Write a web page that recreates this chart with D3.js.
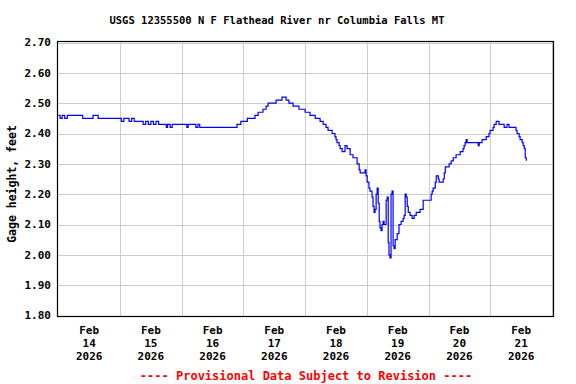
<!DOCTYPE html>
<html><head><meta charset="utf-8">
<script src="https://cdn.jsdelivr.net/npm/d3@7"></script>
<style>
body{margin:0;background:#fff;}
text{font-family:"DejaVu Sans Mono",monospace;font-weight:bold;}
</style></head>
<body><svg id="c" width="576" height="384"></svg>
<script>
const title = "USGS 12355500 N F Flathead River nr Columbia Falls MT";
const yLabel = "Gage height, feet";
const footer = "---- Provisional Data Subject to Revision ----";
const startDate = "2026-02-14T00:00:00";
const endDate = "2026-02-22T00:00:00";
const yTicks = [1.80,1.90,2.00,2.10,2.20,2.30,2.40,2.50,2.60,2.70];
const dayLabels = ["14","15","16","17","18","19","20","21"];
// hours since Feb 14 00:00
const hours = [0,0.7,1.5,2.5,3.5,9.5,13.5,15.5,24.5,25.5,27.5,28.5,29.5,33,34,35,36,37,38,39,
42,42.5,43.5,44.3,50,50.5,53.5,54.3,55,69.5,71,73.5,76.5,77.7,79.6,80.8,81.6,84.7,87,88.6,
89.7,91.3,93.6,96,97.9,99.9,101.8,103,104.1,104.9,106.5,107.6,108,108.4,109.2,109.6,110.4,111.5,112.3,113.5,
114.6,116.2,117,117.4,119.3,119.7,120.1,120.8,121.2,122,122.4,122.8,123.2,123.6,124,124.4,124.8,125.1,125.5,125.9,
126.3,126.7,127.5,127.9,128.3,128.6,129,129.4,129.8,130.2,130.6,131,131.8,132.5,133.3,134.1,134.5,134.9,135.3,135.7,
136.1,136.8,137.6,138.4,139.2,140.7,141.9,144.2,145,145.4,145.8,146.6,147,147.4,147.8,148.1,149.7,150.1,150.5,151.6,
152,152.8,153.6,154.7,156.3,157.4,157.8,158.2,158.6,159,163.3,163.7,164.8,166.4,167.5,167.9,169.1,169.5,170.3,171.4,
173.4,174.5,175.3,178,178.4,179.2,179.6,180.4,180.8,181.2,181.6,182];
const gage = [2.46,2.45,2.46,2.45,2.46,2.45,2.46,2.45,2.44,2.45,2.44,2.45,2.44,2.43,2.44,2.43,2.44,2.43,2.44,2.43,
2.42,2.43,2.42,2.43,2.42,2.43,2.42,2.43,2.42,2.43,2.44,2.45,2.46,2.47,2.48,2.49,2.50,2.51,2.52,2.51,
2.50,2.49,2.48,2.47,2.46,2.45,2.44,2.43,2.42,2.41,2.40,2.39,2.38,2.37,2.36,2.35,2.34,2.36,2.35,2.33,
2.32,2.30,2.28,2.27,2.28,2.26,2.24,2.22,2.21,2.19,2.16,2.14,2.15,2.20,2.22,2.17,2.11,2.09,2.08,2.10,
2.11,2.10,2.18,2.19,2.04,2.00,1.99,2.20,2.21,2.03,2.02,2.05,2.07,2.10,2.11,2.12,2.13,2.20,2.19,2.16,
2.14,2.13,2.12,2.13,2.14,2.15,2.18,2.18,2.20,2.21,2.22,2.24,2.26,2.26,2.25,2.24,2.25,2.27,2.29,2.29,
2.30,2.31,2.32,2.33,2.34,2.35,2.36,2.37,2.38,2.37,2.36,2.37,2.38,2.39,2.40,2.41,2.42,2.43,2.44,2.43,
2.42,2.43,2.42,2.41,2.40,2.39,2.38,2.37,2.36,2.35,2.32,2.31];

const t0 = new Date(startDate), t1 = new Date(endDate);
const data = hours.map((h,i)=>({t:new Date(t0.getTime()+h*3600e3), v:gage[i]}));

const svg = d3.select("#c");
const x = d3.scaleTime().domain([t0,t1]).range([58.3,552]);
const y = d3.scaleLinear().domain([1.80,2.70]).range([315.5,42.5]);

// gridlines
const days = d3.timeDay.range(t0, t1);
svg.append("g").selectAll("line.v").data(days.slice(1).concat([t1])).join("line")
  .attr("x1",d=>Math.round(x(d))+0.5).attr("x2",d=>Math.round(x(d))+0.5)
  .attr("y1",41.5).attr("y2",316.5).attr("stroke","#cccccc").attr("stroke-width",1);
svg.append("g").selectAll("line.h").data(yTicks).join("line")
  .attr("x1",57.5).attr("x2",553.5)
  .attr("y1",d=>Math.round(y(d))+0.5).attr("y2",d=>Math.round(y(d))+0.5)
  .attr("stroke","#cccccc").attr("stroke-width",1);

// line
svg.append("path").datum(data)
  .attr("d", d3.line().x(d=>x(d.t)).y(d=>y(d.v)).curve(d3.curveStepAfter))
  .attr("fill","none").attr("stroke","#0000ff").attr("stroke-width",1.2);

// frame
svg.append("rect").attr("x",57.5).attr("y",41.5).attr("width",496).attr("height",275)
  .attr("fill","none").attr("stroke","#000").attr("stroke-width",1.2);

// y tick labels
svg.append("g").selectAll("text").data(yTicks).join("text")
  .attr("x",51).attr("y",d=>y(d)).attr("dy","0.36em").attr("text-anchor","end")
  .attr("font-size","11px").text(d=>d.toFixed(2));

// x labels at noon
const xl = svg.append("g").selectAll("g").data(days).join("g")
  .attr("transform",d=>`translate(${x(d3.timeHour.offset(d,12))},0)`);
xl.append("text").attr("y",334).attr("text-anchor","middle").attr("font-size","11px").text("Feb");
xl.append("text").attr("y",347).attr("text-anchor","middle").attr("font-size","11px").text((d,i)=>dayLabels[i]);
xl.append("text").attr("y",360).attr("text-anchor","middle").attr("font-size","11px").text("2026");

// title
svg.append("text").attr("x",277).attr("y",24).attr("text-anchor","middle").attr("font-size","10.5px").text(title);
// y label
svg.append("text").attr("transform","translate(16,184) rotate(-90)").attr("text-anchor","middle")
  .attr("font-size","11.5px").text(yLabel);
// footer
svg.append("text").attr("x",306).attr("y",380).attr("text-anchor","middle").attr("font-size","12px")
  .attr("fill","#ff0000").text(footer);
</script></body></html>
